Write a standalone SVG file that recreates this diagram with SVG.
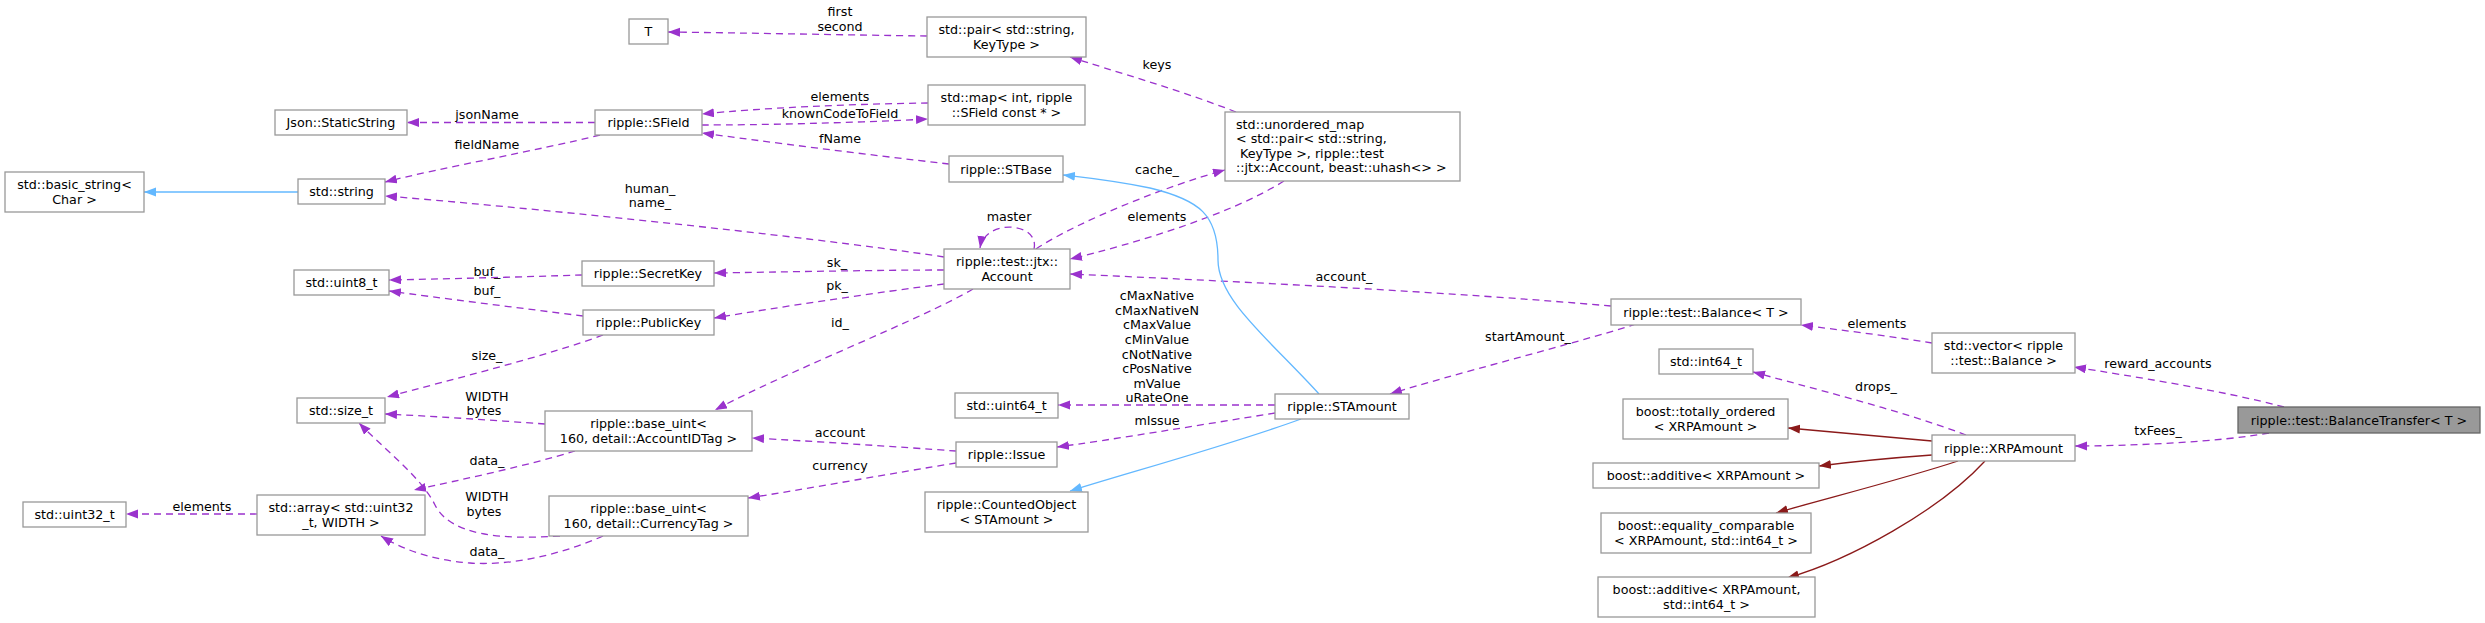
<svg xmlns="http://www.w3.org/2000/svg" width="2485" height="623" viewBox="0 0 2485 623">
<style>
.n rect{fill:#ffffff;stroke:#999999;stroke-width:1.3}
.root rect{fill:#999999;stroke:#666666;stroke-width:1.3}
text{font-family:"DejaVu Sans","Liberation Sans",sans-serif;font-size:12.7px;fill:#000000}
.n text,.root text{text-anchor:middle}
.lbl text{text-anchor:middle}
.u{fill:none;stroke:#9a32cd;stroke-width:1.3;stroke-dasharray:7,5;marker-end:url(#ap)}
.b{fill:none;stroke:#63b8ff;stroke-width:1.3;marker-end:url(#ab)}
.r{fill:none;stroke:#8b1a1a;stroke-width:1.3;marker-end:url(#ar)}
</style>
<defs>
<marker id="ap" markerWidth="13" markerHeight="10" refX="12" refY="4.5" orient="auto" markerUnits="userSpaceOnUse"><path d="M0,0 L12,4.5 L0,9 z" fill="#9a32cd"/></marker>
<marker id="ab" markerWidth="13" markerHeight="10" refX="12" refY="4.5" orient="auto" markerUnits="userSpaceOnUse"><path d="M0,0 L12,4.5 L0,9 z" fill="#63b8ff"/></marker>
<marker id="ar" markerWidth="13" markerHeight="10" refX="12" refY="4.5" orient="auto" markerUnits="userSpaceOnUse"><path d="M0,0 L12,4.5 L0,9 z" fill="#8b1a1a"/></marker>
</defs>
<rect width="2485" height="623" fill="#ffffff"/>
<g id="connectors">
<path class="u" d="M2284,407 C2220,390 2130,376 2074,367"/>
<path class="u" d="M2269,433 C2220,442 2130,446 2075,446"/>
<path class="u" d="M1932,343 C1890,336 1840,330 1801,325"/>
<path class="u" d="M1966,435 C1900,410 1800,385 1753,372"/>
<path class="r" d="M1932,441 C1880,436 1830,432 1788,428"/>
<path class="r" d="M1932,455 C1890,458 1850,462 1819,466"/>
<path class="r" d="M1958,461 C1900,480 1820,500 1776,513"/>
<path class="r" d="M1985,461 C1940,510 1850,560 1787,578"/>
<path class="u" d="M1611,306 C1450,292 1250,282 1070,274"/>
<path class="u" d="M1636,324 C1570,345 1450,375 1390,394"/>
<path class="u" d="M1236,112 C1180,90 1110,70 1070,57"/>
<path class="u" d="M1284,181 C1230,215 1130,245 1070,259"/>
<path class="u" d="M1036,249 C1080,220 1170,185 1225,170"/>
<path class="b" d="M1319,394 C1270,340 1218,300 1218,260 C1218,215 1200,200 1150,188 C1110,180 1080,177 1063,175"/>
<path class="b" d="M1301,419 C1230,445 1120,475 1070,491"/>
<path class="u" d="M1275,405 L1058,405"/>
<path class="u" d="M1275,413 C1200,425 1110,440 1057,447"/>
<path class="u" d="M949,164 C870,155 760,141 702,133"/>
<path class="u" d="M928,103 C850,104 760,108 702,114"/>
<path class="u" d="M702,125 C760,125 850,123 928,119"/>
<path class="u" d="M927,36 C850,35 750,33 668,32"/>
<path class="u" d="M1034,249 C1040,222 985,218 980,248"/>
<path class="u" d="M944,257 C800,235 500,205 385,196"/>
<path class="u" d="M944,270 C880,270 780,272 714,273"/>
<path class="u" d="M944,284 C880,292 780,307 714,318"/>
<path class="u" d="M973,289 C920,320 790,370 715,410"/>
<path class="u" d="M956,451 C900,447 810,441 752,438"/>
<path class="u" d="M956,463 C900,472 800,490 748,498"/>
<path class="u" d="M595,122.5 L407,122.5"/>
<path class="u" d="M600,135 C540,150 440,168 385,182"/>
<path class="u" d="M582,275 C520,277 440,279 389,280"/>
<path class="u" d="M583,316 C520,308 440,298 389,291"/>
<path class="u" d="M603,335 C550,355 450,380 387,397"/>
<path class="u" d="M545,424 C490,420 430,416 385,414"/>
<path class="u" d="M575,451 C530,465 460,480 414,490"/>
<path class="u" d="M560,536 C500,540 450,535 435,505 C422,478 385,450 359,423"/>
<path class="u" d="M603,536 C560,555 510,566 470,563 C430,560 400,548 381,536"/>
<path class="u" d="M257,514 L126,514"/>
<path class="b" d="M298,192 L144,192"/>
</g>
<g id="labels" class="lbl">
<text x="2158" y="368">reward_accounts</text>
<text x="2158" y="435">txFees_</text>
<text x="1877" y="328">elements</text>
<text x="1876" y="391">drops_</text>
<text x="1344" y="280.5">account_</text>
<text x="1528" y="340.5">startAmount_</text>
<text x="1157" y="68.5">keys</text>
<text x="1157" y="173.5">cache_</text>
<text x="1157" y="221">elements</text>
<text x="1157" y="300.2">cMaxNative</text>
<text x="1157" y="314.8">cMaxNativeN</text>
<text x="1157" y="329.4">cMaxValue</text>
<text x="1157" y="344">cMinValue</text>
<text x="1157" y="358.6">cNotNative</text>
<text x="1157" y="373.2">cPosNative</text>
<text x="1157" y="387.8">mValue</text>
<text x="1157" y="402.4">uRateOne</text>
<text x="1157" y="424.5">mIssue</text>
<text x="1009" y="221">master</text>
<text x="840" y="16">first</text>
<text x="840" y="30.5">second</text>
<text x="840" y="100.5">elements</text>
<text x="840" y="117.5">knownCodeToField</text>
<text x="840" y="142.5">fName</text>
<text x="650" y="192.5">human_</text>
<text x="650" y="206.5">name_</text>
<text x="837" y="267">sk_</text>
<text x="837" y="289.5">pk_</text>
<text x="840" y="327">id_</text>
<text x="840" y="436.5">account</text>
<text x="840" y="469.5">currency</text>
<text x="487" y="118.5">jsonName</text>
<text x="487" y="148.5">fieldName</text>
<text x="487" y="275.5">buf_</text>
<text x="487" y="295">buf_</text>
<text x="487" y="359.8">size_</text>
<text x="487" y="400.5">WIDTH</text>
<text x="484" y="415">bytes</text>
<text x="487" y="464.5">data_</text>
<text x="487" y="501">WIDTH</text>
<text x="484" y="516">bytes</text>
<text x="487" y="556">data_</text>
<text x="202" y="511">elements</text>
</g>
<g id="node_BalanceTransfer" class="root"><rect x="2238" y="407" width="242" height="26"/><text x="2359" y="424.5">ripple::test::BalanceTransfer&lt; T &gt;</text></g>
<g id="node_vector" class="n"><rect x="1932" y="333" width="143" height="40"/><text x="2003.5" y="350.2">std::vector&lt; ripple</text><text x="2003.5" y="364.8">::test::Balance &gt;</text></g>
<g id="node_XRPAmount" class="n"><rect x="1932" y="435" width="143" height="26"/><text x="2003.5" y="452.5">ripple::XRPAmount</text></g>
<g id="node_Balance" class="n"><rect x="1611" y="299" width="190" height="26"/><text x="1706" y="316.5">ripple::test::Balance&lt; T &gt;</text></g>
<g id="node_int64" class="n"><rect x="1659" y="349" width="94" height="25"/><text x="1706" y="366">std::int64_t</text></g>
<g id="node_totally_ordered" class="n"><rect x="1623" y="399" width="165" height="40"/><text x="1705.5" y="416.2">boost::totally_ordered</text><text x="1705.5" y="430.8">&lt; XRPAmount &gt;</text></g>
<g id="node_additive1" class="n"><rect x="1593" y="463" width="226" height="25"/><text x="1706" y="480">boost::additive&lt; XRPAmount &gt;</text></g>
<g id="node_equality" class="n"><rect x="1601" y="513" width="210" height="40"/><text x="1706" y="530.2">boost::equality_comparable</text><text x="1706" y="544.8">&lt; XRPAmount, std::int64_t &gt;</text></g>
<g id="node_additive2" class="n"><rect x="1598" y="577" width="217" height="40"/><text x="1706.5" y="594.2">boost::additive&lt; XRPAmount,</text><text x="1706.5" y="608.8">std::int64_t &gt;</text></g>
<g id="node_unordered_map" class="n"><rect x="1225" y="112" width="235" height="69"/><text x="1236" y="128.5" style="text-anchor:start">std::unordered_map</text><text x="1236" y="143" style="text-anchor:start">&lt; std::pair&lt; std::string,</text><text x="1236" y="157.5" style="text-anchor:start" xml:space="preserve"> KeyType &gt;, ripple::test</text><text x="1236" y="172" style="text-anchor:start">::jtx::Account, beast::uhash&lt;&gt; &gt;</text></g>
<g id="node_STAmount" class="n"><rect x="1275" y="394" width="134" height="25"/><text x="1342" y="411">ripple::STAmount</text></g>
<g id="node_pair" class="n"><rect x="927" y="17" width="159" height="40"/><text x="1006.5" y="34.2">std::pair&lt; std::string,</text><text x="1006.5" y="48.8">KeyType &gt;</text></g>
<g id="node_map" class="n"><rect x="928" y="85" width="157" height="40"/><text x="1006.5" y="102.2">std::map&lt; int, ripple</text><text x="1006.5" y="116.8">::SField const * &gt;</text></g>
<g id="node_STBase" class="n"><rect x="949" y="156" width="114" height="26"/><text x="1006" y="173.5">ripple::STBase</text></g>
<g id="node_Account" class="n"><rect x="944" y="249" width="126" height="40"/><text x="1007" y="266.2">ripple::test::jtx::</text><text x="1007" y="280.8">Account</text></g>
<g id="node_uint64" class="n"><rect x="955" y="393" width="103" height="25"/><text x="1006.5" y="410">std::uint64_t</text></g>
<g id="node_Issue" class="n"><rect x="956" y="442" width="101" height="25"/><text x="1006.5" y="459">ripple::Issue</text></g>
<g id="node_CountedObject" class="n"><rect x="925" y="492" width="163" height="40"/><text x="1006.5" y="509.2">ripple::CountedObject</text><text x="1006.5" y="523.8">&lt; STAmount &gt;</text></g>
<g id="node_T" class="n"><rect x="629" y="19" width="39" height="25"/><text x="648.5" y="36">T</text></g>
<g id="node_SField" class="n"><rect x="595" y="110" width="107" height="25"/><text x="648.5" y="127">ripple::SField</text></g>
<g id="node_SecretKey" class="n"><rect x="582" y="261" width="132" height="25"/><text x="648" y="278">ripple::SecretKey</text></g>
<g id="node_PublicKey" class="n"><rect x="583" y="310" width="131" height="25"/><text x="648.5" y="327">ripple::PublicKey</text></g>
<g id="node_AccountIDTag" class="n"><rect x="545" y="411" width="207" height="40"/><text x="648.5" y="428.2">ripple::base_uint&lt;</text><text x="648.5" y="442.8">160, detail::AccountIDTag &gt;</text></g>
<g id="node_CurrencyTag" class="n"><rect x="549" y="496" width="199" height="40"/><text x="648.5" y="513.2">ripple::base_uint&lt;</text><text x="648.5" y="527.8">160, detail::CurrencyTag &gt;</text></g>
<g id="node_StaticString" class="n"><rect x="275" y="110" width="132" height="25"/><text x="341" y="127">Json::StaticString</text></g>
<g id="node_string" class="n"><rect x="298" y="179" width="87" height="25"/><text x="341.5" y="196">std::string</text></g>
<g id="node_uint8" class="n"><rect x="294" y="270" width="95" height="25"/><text x="341.5" y="287">std::uint8_t</text></g>
<g id="node_size_t" class="n"><rect x="297" y="398" width="88" height="25"/><text x="341" y="415">std::size_t</text></g>
<g id="node_array" class="n"><rect x="257" y="495" width="168" height="40"/><text x="341" y="512.2">std::array&lt; std::uint32</text><text x="341" y="526.8">_t, WIDTH &gt;</text></g>
<g id="node_basic_string" class="n"><rect x="5" y="172" width="139" height="40"/><text x="74.5" y="189.2">std::basic_string&lt;</text><text x="74.5" y="203.8">Char &gt;</text></g>
<g id="node_uint32" class="n"><rect x="23" y="502" width="103" height="25"/><text x="74.5" y="519">std::uint32_t</text></g>
</svg>
